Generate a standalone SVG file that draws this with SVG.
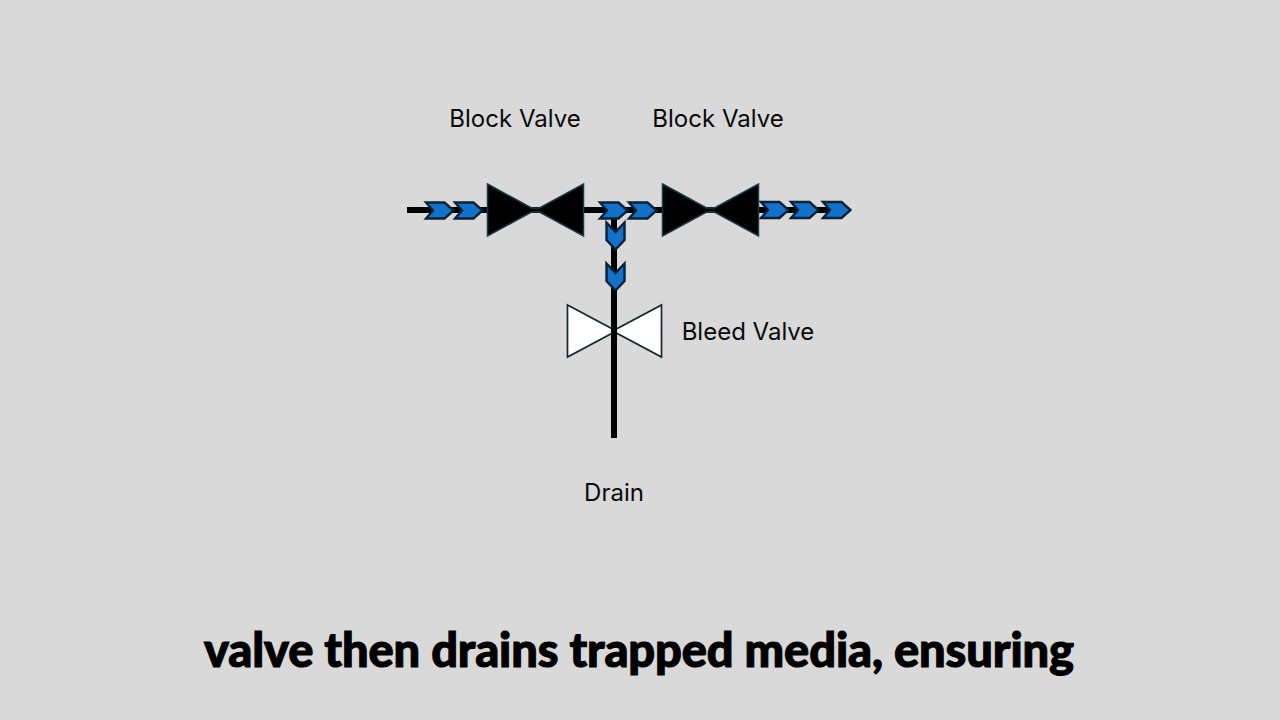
<svg xmlns="http://www.w3.org/2000/svg" width="1280" height="720" viewBox="0 0 1280 720">
<style>
.pipe{stroke:#000;stroke-width:6;fill:none}
.chev{fill:#1570c8;stroke:#0a2238;stroke-width:2.400;stroke-linejoin:miter}
.blk{fill:#000;stroke:#1c3a44;stroke-width:1.500}
.wht{fill:#fff;stroke:#14262c;stroke-width:1.700}
.lbl{font-family:"Inter","Noto Sans",sans-serif;font-size:24px;fill:#0a0a0a;text-anchor:middle}
.cap{font-family:"Lato","Noto Sans",sans-serif;font-weight:900;font-size:47px;fill:#000;stroke:#000;stroke-width:1.100;text-anchor:middle}
</style>
<defs>
<polygon id="ch" points="-13.500,-8 5,-8 14,0 5,8 -13.500,8 -6.500,0"/>
<polygon id="chv" points="-13.500,-9 4,-9 13.500,0 4,9 -13.500,9 -4,0"/>
<polygon id="bow" points="-48,-26 -4,-2 4,-2 48,-26 48,26 4,2 -4,2 -48,26"/>
<polygon id="bowo" points="-47,-26 0,-1 47,-26 47,26 0,1 -47,26"/>
</defs>
<rect width="1280" height="720" fill="#d9d9d9"/>
<g id="connectors">
<path class="pipe" d="M407 210H840"/>
<path class="pipe" d="M614 210V438"/>
<g id="flow-arrows">
<use href="#ch" class="chev" x="439.500" y="210.500"/>
<use href="#ch" class="chev" x="468.500" y="210.500"/>
<use href="#ch" class="chev" x="613.500" y="210.500"/>
<use href="#ch" class="chev" x="642.500" y="210.500"/>
<use href="#ch" class="chev" x="774.500" y="210"/>
<use href="#ch" class="chev" x="804.500" y="210"/>
<use href="#ch" class="chev" x="836.500" y="210"/>
<use href="#chv" class="chev" transform="translate(615.500 236) rotate(90)"/>
<use href="#chv" class="chev" transform="translate(615.500 277) rotate(90)"/>
</g>
</g>
<g id="block-valve-1"><use href="#bow" class="blk" x="535.500" y="210"/></g>
<g id="block-valve-2"><use href="#bow" class="blk" x="710.500" y="210"/></g>
<g id="bleed-valve"><use href="#bowo" class="wht" x="614.500" y="331"/><path class="pipe" d="M614 290V345"/></g>
<g id="labels">
<text class="lbl" x="515" y="127">Block Valve</text>
<text class="lbl" x="718" y="127">Block Valve</text>
<text class="lbl" x="748" y="340">Bleed Valve</text>
<text class="lbl" x="614" y="501">Drain</text>
</g>
<text class="cap" x="639" y="667" textLength="870" lengthAdjust="spacing">valve then drains trapped media, ensuring</text>
</svg>
